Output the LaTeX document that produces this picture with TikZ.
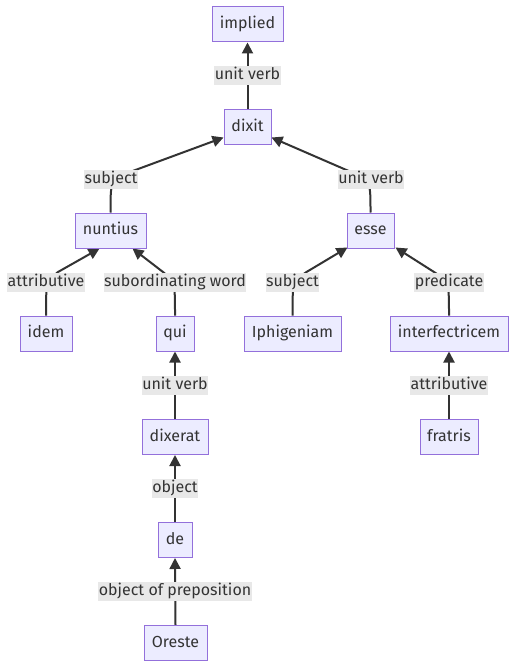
\documentclass[tikz,border=0pt]{standalone}
\usepackage{fontspec}
\setmainfont{Fira Sans}
\usetikzlibrary{arrows.meta,calc,backgrounds}
\definecolor{nodefill}{HTML}{ECECFF}
\definecolor{nodeline}{HTML}{9370DB}
\definecolor{edgecol}{HTML}{333333}
\definecolor{lblfill}{HTML}{E8E8E8}
\tikzset{
  wbox/.style={draw=nodeline, fill=nodefill, line width=1pt, minimum height=35pt, inner sep=0pt, text=edgecol, font=\fontsize{16}{19}\selectfont, text height=11.5pt, text depth=3.5pt},
  elbl/.style={fill=lblfill, inner xsep=0.5pt, inner ysep=1.5pt, text=edgecol, font=\fontsize{16}{19}\selectfont, text height=12pt, text depth=4pt},
  arr/.style={draw=edgecol, line width=2pt, -{Triangle[length=11pt,width=11pt]}}
}
\begin{document}
\begin{tikzpicture}[x=1pt,y=-1pt]
\useasboundingbox (0,0) rectangle (516,668);
% word nodes
\node[wbox, minimum width=71pt] (implied) at (247.5,24.5) {implied};
\node[wbox, minimum width=47pt] (dixit) at (247.5,127.5) {dixit};
\node[wbox, minimum width=71pt] (nuntius) at (110.5,230.5) {nuntius};
\node[wbox, minimum width=47pt] (esse) at (370.5,230.5) {esse};
\node[wbox, minimum width=52pt] (idem) at (46,333.5) {idem};
\node[wbox, minimum width=38pt] (qui) at (175,333.5) {qui};
\node[wbox, minimum width=97pt] (iphigeniam) at (292.5,333.5) {Iphigeniam};
\node[wbox, minimum width=118pt] (interfectricem) at (449,333.5) {interfectricem};
\node[wbox, minimum width=58pt] (fratris) at (449,437) {fratris};
\node[wbox, minimum width=66pt] (dixerat) at (175,437) {dixerat};
\node[wbox, minimum width=34pt] (de) at (175,540) {de};
\node[wbox, minimum width=63pt] (oreste) at (175.5,643) {Oreste};
% edge labels
\node[elbl] (l1) at (247.5,76) {unit verb};
\node[elbl] (l2) at (111,180) {subject};
\node[elbl] (l3) at (371,180) {unit verb};
\node[elbl] (l4) at (46,282) {attributive};
\node[elbl] (l5) at (175,282) {subordinating word};
\node[elbl] (l6) at (292.5,282) {subject};
\node[elbl] (l7) at (449,282) {predicate};
\node[elbl] (l8) at (175,385) {unit verb};
\node[elbl] (l9) at (449,385) {attributive};
\node[elbl] (l10) at (175,488) {object};
\node[elbl] (l11) at (175,591) {object of preposition};
% connectors
\begin{pgfonlayer}{background}
\fill[white] (0,0) rectangle (516,668);
\draw[arr] (dixit.north) -- (implied.south);
\draw[arr] (nuntius.north) .. controls (nuntius.north |- l2.center) .. ($(l2.center)+(19,-8)$) -- ([yshift=8pt]dixit.south west);
\draw[arr] (esse.north) .. controls (esse.north |- l3.center) .. ($(l3.center)+(-20,-8)$) -- ([yshift=8pt]dixit.south east);
\draw[arr] (idem.north) .. controls (idem.north |- l4.center) .. ($(l4.center)+(12,-10)$) -- ([xshift=-11pt]nuntius.south);
\draw[arr] (qui.north) .. controls (qui.north |- l5.center) .. ($(l5.center)+(-12,-10)$) -- ([xshift=22pt]nuntius.south);
\draw[arr] (iphigeniam.north) .. controls (iphigeniam.north |- l6.center) .. ($(l6.center)+(14,-10)$) -- ([shift={(1pt,1pt)}]esse.south west);
\draw[arr] (interfectricem.north) .. controls (interfectricem.north |- l7.center) .. ($(l7.center)+(-15,-10)$) -- ([shift={(1pt,1pt)}]esse.south east);
\draw[arr] (dixerat.north) -- (qui.south);
\draw[arr] (fratris.north) -- (interfectricem.south);
\draw[arr] (de.north) -- (dixerat.south);
\draw[arr] (oreste.north) -- (de.south);
\end{pgfonlayer}
\end{tikzpicture}
\end{document}
